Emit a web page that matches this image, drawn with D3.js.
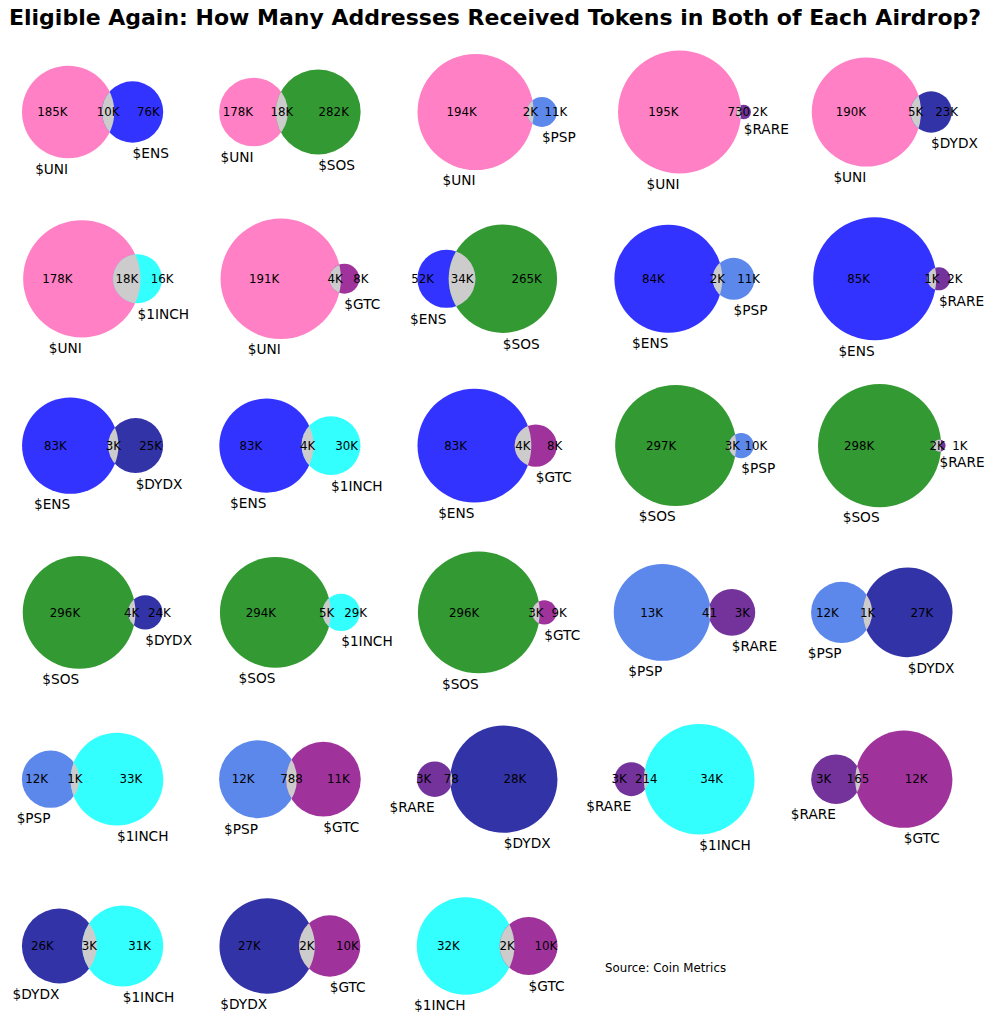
<!DOCTYPE html>
<html><head><meta charset="utf-8">
<script src="https://cdn.jsdelivr.net/npm/d3@7/dist/d3.min.js"></script>
<style>body{margin:0;background:#fff}svg{display:block}</style>
</head><body>
<svg id="chart" width="995" height="1020"></svg>
<script>
// ---- data ----
const tokens = ["$UNI", "$ENS", "$SOS", "$PSP", "$RARE", "$DYDX", "$1INCH", "$GTC"];
const tokenColors = ["#ff80c4", "#3333ff", "#339933", "#5c88ec", "#73339b", "#3333a8", "#33ffff", "#a0339b"];
const pairA = [0,0,0,0,0,0,0, 1,1,1,1,1,1, 2,2,2,2,2, 3,3,3,3, 4,4,4, 5,5, 6];
const pairB = [1,2,3,4,5,6,7, 2,3,4,5,6,7, 3,4,5,6,7, 4,5,6,7, 5,6,7, 6,7, 7];
const onlyA = [185000,178000,194000,195000,190000,178000,191000, 52000,84000,85000,83000,83000,83000,
               297000,298000,296000,294000,296000, 13000,12000,12000,12000, 3000,3000,3000, 26000,27000, 32000];
const both  = [10000,18000,2000,730,5000,18000,4000, 34000,2000,1000,3000,4000,4000,
               3000,2000,4000,5000,3000, 41,1000,1000,788, 78,214,165, 3000,2000, 2000];
const onlyB = [76000,282000,11000,2000,23000,16000,8000, 265000,11000,2000,25000,30000,8000,
               10000,1000,24000,29000,9000, 3000,27000,33000,11000, 28000,34000,12000, 31000,10000, 10000];
const titleText = "Eligible Again: How Many Addresses Received Tokens in Both of Each Airdrop?";
const sourceText = "Source: Coin Metrics";

// ---- layout ----
const FONT = "DejaVu Sans, Verdana, sans-serif";
const nCols = 5;
const cellW = 160.5, cellH = 145;
const col0 = 92.6, colStep = 197.3;
const row0 = 112, rowStep = 166.8;
const overlapColor = "#cccccc";
const subsetFs = 11.8, setFs = 13.7;

const svg = d3.select("#chart");
svg.append("rect").attr("width", 995).attr("height", 1020).attr("fill", "#fff");

svg.append("text")
  .attr("x", 495).attr("y", 25)
  .attr("text-anchor", "middle")
  .attr("font-family", FONT).attr("font-weight", "bold").attr("font-size", 22)
  .attr("fill", "#000")
  .text(titleText);

function lensArea(r1, r2, d) {
  if (d >= r1 + r2) return 0;
  if (d <= Math.abs(r1 - r2)) return Math.PI * Math.min(r1, r2) ** 2;
  const a1 = Math.acos((d * d + r1 * r1 - r2 * r2) / (2 * d * r1));
  const a2 = Math.acos((d * d + r2 * r2 - r1 * r1) / (2 * d * r2));
  const k = Math.sqrt((-d + r1 + r2) * (d + r1 - r2) * (d - r1 + r2) * (d + r1 + r2));
  return r1 * r1 * a1 + r2 * r2 * a2 - 0.5 * k;
}
function findDistance(r1, r2, area) {
  let lo = Math.abs(r1 - r2), hi = r1 + r2;
  for (let i = 0; i < 100; i++) {
    const mid = (lo + hi) / 2;
    if (lensArea(r1, r2, mid) > area) lo = mid; else hi = mid;
  }
  return (lo + hi) / 2;
}
const fmt = v => v >= 1000 ? Math.round(v / 1000) + "K" : String(v);

const defs = svg.append("defs");

pairA.forEach((ia, k) => {
  const ib = pairB[k];
  const a = onlyA[k], b = onlyB[k], ab = both[k];
  const total = a + b + ab;
  const areaA = (a + ab) / total, areaB = (b + ab) / total, areaAB = ab / total;
  const rA = Math.sqrt(areaA / Math.PI), rB = Math.sqrt(areaB / Math.PI);
  const dist = areaAB > 1e-6 ? findDistance(rA, rB, areaAB) : rA + rB + 0.05;

  const xmin = -rA - 0.1, xmax = dist + rB + 0.1;
  const ymax = Math.max(rA, rB) + 0.1;
  const dw = xmax - xmin, dh = 2 * ymax;
  const s = Math.min(cellW / dw, cellH / dh);
  const cx = col0 + (k % nCols) * colStep;
  const cy = row0 + Math.floor(k / nCols) * rowStep;

  const x = d3.scaleLinear().domain([xmin, xmax]).range([cx - s * dw / 2, cx + s * dw / 2]);
  const y = d3.scaleLinear().domain([-ymax, ymax]).range([cy + s * dh / 2, cy - s * dh / 2]);

  const ax = x(0), bx = x(dist), yc = y(0);
  const rApx = x(rA) - x(0), rBpx = x(rB) - x(0);

  const g = svg.append("g");
  const clipId = "clipA" + k;
  defs.append("clipPath").attr("id", clipId)
    .append("circle").attr("cx", ax).attr("cy", yc).attr("r", rApx);

  g.append("circle").attr("cx", ax).attr("cy", yc).attr("r", rApx).attr("fill", tokenColors[ia]);
  g.append("circle").attr("cx", bx).attr("cy", yc).attr("r", rBpx).attr("fill", tokenColors[ib]);
  if (ab > 0) {
    g.append("circle").attr("cx", bx).attr("cy", yc).attr("r", rBpx)
      .attr("fill", overlapColor).attr("clip-path", `url(#${clipId})`);
  }

  // subset labels
  const lensMid = ((bx - rBpx) + (ax + rApx)) / 2;
  const subset = [
    {x: bx - cellW / 2, t: fmt(a)},
    {x: lensMid, t: fmt(ab)},
    {x: ax + cellW / 2, t: fmt(b)}
  ];
  g.selectAll("text.sub").data(subset).join("text")
    .attr("class", "sub")
    .attr("x", d => d.x).attr("y", yc + 0.36 * subsetFs)
    .attr("text-anchor", "middle")
    .attr("font-family", FONT).attr("font-size", subsetFs).attr("fill", "#000")
    .text(d => d.t);

  // set labels
  const pad = 0.1 * (rApx + rBpx) / 2;
  g.append("text")
    .attr("x", ax).attr("y", yc + rApx + pad + 0.85 * setFs)
    .attr("text-anchor", "end")
    .attr("font-family", FONT).attr("font-size", setFs).attr("fill", "#000")
    .text(tokens[ia]);
  g.append("text")
    .attr("x", bx).attr("y", yc + rBpx + pad + 0.85 * setFs)
    .attr("text-anchor", "start")
    .attr("font-family", FONT).attr("font-size", setFs).attr("fill", "#000")
    .text(tokens[ib]);
});

svg.append("text")
  .attr("x", 605).attr("y", 971.5)
  .attr("font-family", FONT).attr("font-size", 11.8).attr("fill", "#000")
  .text(sourceText);
</script>
</body></html>
